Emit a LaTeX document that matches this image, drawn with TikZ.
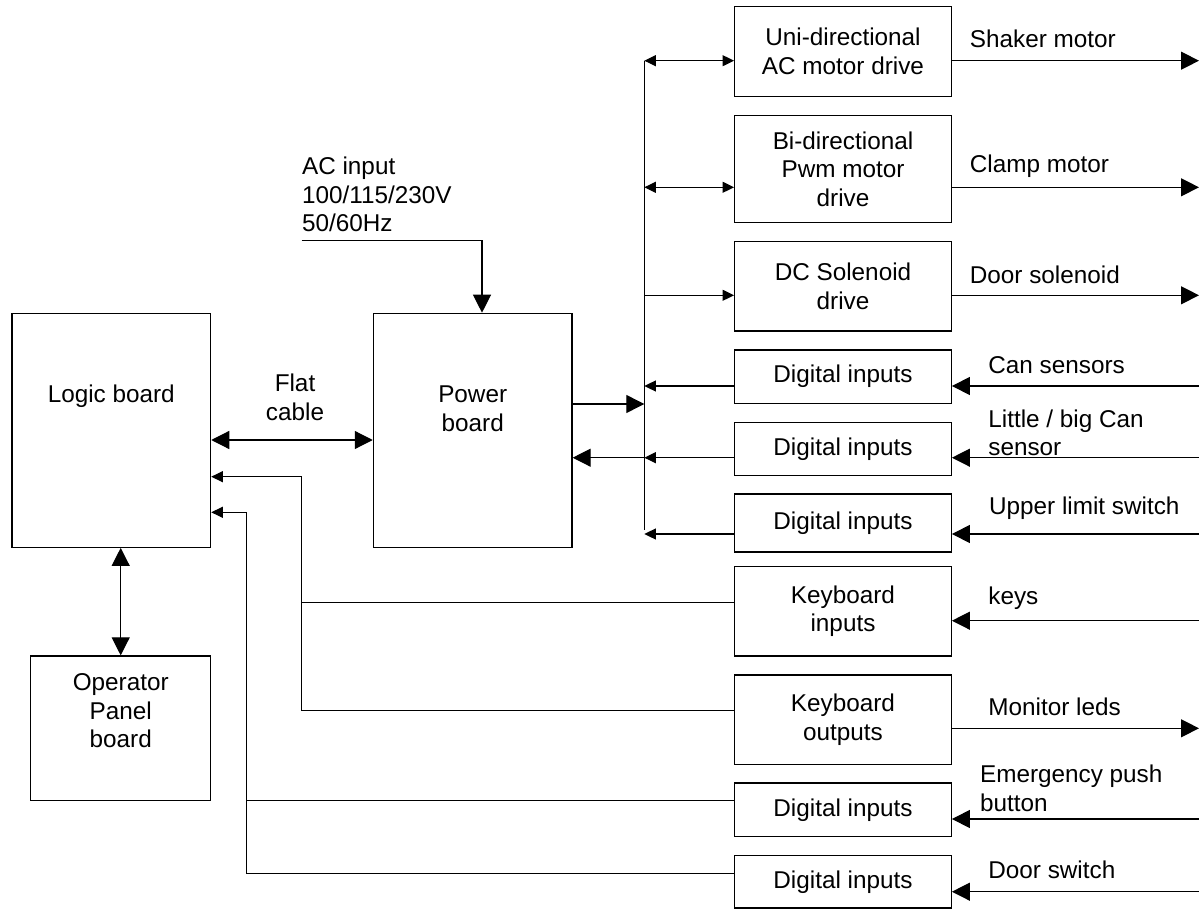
\documentclass[tikz,border=0pt]{standalone}
\usepackage{fontspec}
\setmainfont{Liberation Sans}
\usetikzlibrary{arrows.meta, positioning}

\begin{document}
\begin{tikzpicture}[
  x=0.5pt, y=-0.5pt,
  font=\fontsize{12.15}{14.25}\selectfont,
  blk/.style={rectangle, draw, line width=0.6pt, align=center,
    inner sep=0pt, minimum width=108.3pt},
  board/.style={rectangle, draw, line width=0.6pt, align=center,
    inner sep=0pt},
  wire/.style={line width=0.6pt},
  big/.style={wire, -{Triangle[length=9pt, width=9pt]}},
  small/.style={wire, -{Triangle[length=5.8pt, width=5.5pt]}},
  bboth/.style={wire, {Triangle[length=9pt, width=9pt]}-{Triangle[length=9pt, width=9pt]}},
  sboth/.style={wire, {Triangle[length=5.8pt, width=5.5pt]}-{Triangle[length=5.8pt, width=5.5pt]}},
  txt/.style={align=left, inner sep=0pt, anchor=west}
]
\useasboundingbox (0,0) rectangle (1199,909);

% Left column: boards
\node[board, minimum width=99.35pt, minimum height=117pt,
      label={[yshift=16.8pt]center:Logic board}] (logic) at (111.3,430.3) {};
\node[board, minimum width=99.35pt, minimum height=117pt,
      label={[align=center, yshift=10.65pt]center:Power\\board}] (power) at (472.7,430.3) {};
\node[board, minimum width=90pt, minimum height=72.35pt,
      label={[align=center, yshift=8.65pt]center:Operator\\Panel\\board}] (panel) at (120.7,728.3) {};

\draw[bboth] ([yshift=-4.85pt]logic.east) -- ([yshift=-4.85pt]power.west);
\node[align=center] (flat) at (295,397.4) {Flat\\cable};
\draw[bboth] (panel.north) -- (panel.north |- logic.south);

% AC input
\node[txt] (acin) at (301.7,194.5) {AC input\\100/115/230V\\50/60Hz};
\coordinate (acstart) at (301.7,240.7);
\draw[big] (acstart) -| ([xshift=4.65pt]power.north);

% Right column: drives and inputs
\node[blk, minimum height=44.8pt] (uni) at (843,51.5) {Uni-directional\\AC motor drive};
\node[blk, minimum height=53.7pt] (bi) at (843,169) {Bi-directional\\Pwm motor\\drive};
\node[blk, minimum height=44.65pt] (dc) at (843,286.3) {DC Solenoid\\drive};
\node[blk, minimum height=26.65pt] (dia) at (843,376.7) {Digital inputs};
\node[blk, minimum height=26.7pt] (dib) at (843,449) {Digital inputs};
\node[blk, minimum height=29pt] (dic) at (843,523) {Digital inputs};
\node[blk, minimum height=44.65pt] (kin) at (843,611.3) {Keyboard\\inputs};
\node[blk, minimum height=44.65pt] (kout) at (843,719.7) {Keyboard\\outputs};
\node[blk, minimum height=26.85pt] (did) at (843,809.8) {Digital inputs};
\node[blk, minimum height=26.15pt] (die) at (843,881.9) {Digital inputs};

% Bus
\coordinate (b1) at (644.3,60.7);
\coordinate (b2) at (644.3,187.3);
\coordinate (b3) at (644.3,295.3);
\coordinate (b4) at (644.3,386);
\coordinate (b5) at (644.3,457.7);
\coordinate (b6) at (644.3,534);
\coordinate (bend) at (644.3,530);
\coordinate (p1) at (644.3,404);

\draw[wire] (b1) -- (bend);
\draw[sboth] (b1) -- (b1 -| uni.west);
\draw[sboth] (b2) -- (b2 -| bi.west);
\draw[small] (b3) -- (b3 -| dc.west);
\draw[small] (b4 -| dia.west) -- (b4);
\draw[small] (b5 -| dib.west) -- (b5);
\draw[small] (b6 -| dic.west) -- (b6);
\draw[big] (p1 -| power.east) -- (p1);
\draw[big] (b5) -- (b5 -| power.east);

% Lines back to logic board
\coordinate (ra) at (301.7,476.7);
\coordinate (rb) at (246.7,512.3);
\coordinate (k1) at (301.7,602.7);
\coordinate (k2) at (301.7,710.3);
\coordinate (d1) at (246.7,800.7);
\coordinate (d2) at (246.7,873.3);

\draw[wire] (k1 -| kin.west) -- (k1);
\draw[small] (k2 -| kout.west) -- (k2) -- (ra) -- (ra -| logic.east);
\draw[wire] (d1 -| did.west) -- (d1);
\draw[small] (d2 -| die.west) -- (d2) -- (rb) -- (rb -| logic.east);

% Right edge signals
\coordinate (o1) at (1199,60.7);
\coordinate (o2) at (1199,187.3);
\coordinate (o3) at (1199,295.3);
\coordinate (i1) at (1199,386);
\coordinate (i2) at (1199,457.7);
\coordinate (i3) at (1199,534);
\coordinate (i4) at (1199,620.7);
\coordinate (o4) at (1199,728.3);
\coordinate (i5) at (1199,819);
\coordinate (i6) at (1199,891.7);

\draw[big] (o1 -| uni.east) -- (o1);
\draw[big] (o2 -| bi.east) -- (o2);
\draw[big] (o3 -| dc.east) -- (o3);
\draw[big] (i1) -- (i1 -| dia.east);
\draw[big] (i2) -- (i2 -| dib.east);
\draw[big] (i3) -- (i3 -| dic.east);
\draw[big] (i4) -- (i4 -| kin.east);
\draw[big] (o4 -| kout.east) -- (o4);
\draw[big] (i5) -- (i5 -| did.east);
\draw[big] (i6) -- (i6 -| die.east);

% Labels
\node[txt] (shaker) at (969.5,39.3) {Shaker motor};
\node[txt] (clamp) at (969.5,166.7) {Clamp motor};
\node[txt] (door) at (969.5,275) {Door solenoid};
\node[txt] (cans) at (988,365) {Can sensors};
\node[txt] (little) at (988,433) {Little / big Can\\sensor};
\node[txt] (upper) at (988.7,508.3) {Upper limit switch};
\node[txt] (keys) at (988,598.3) {keys};
\node[txt] (leds) at (988,707.3) {Monitor leds};
\node[txt] (emerg) at (979.7,788.2) {Emergency push\\button};
\node[txt] (dsw) at (988,870) {Door switch};
\end{tikzpicture}
\end{document}
